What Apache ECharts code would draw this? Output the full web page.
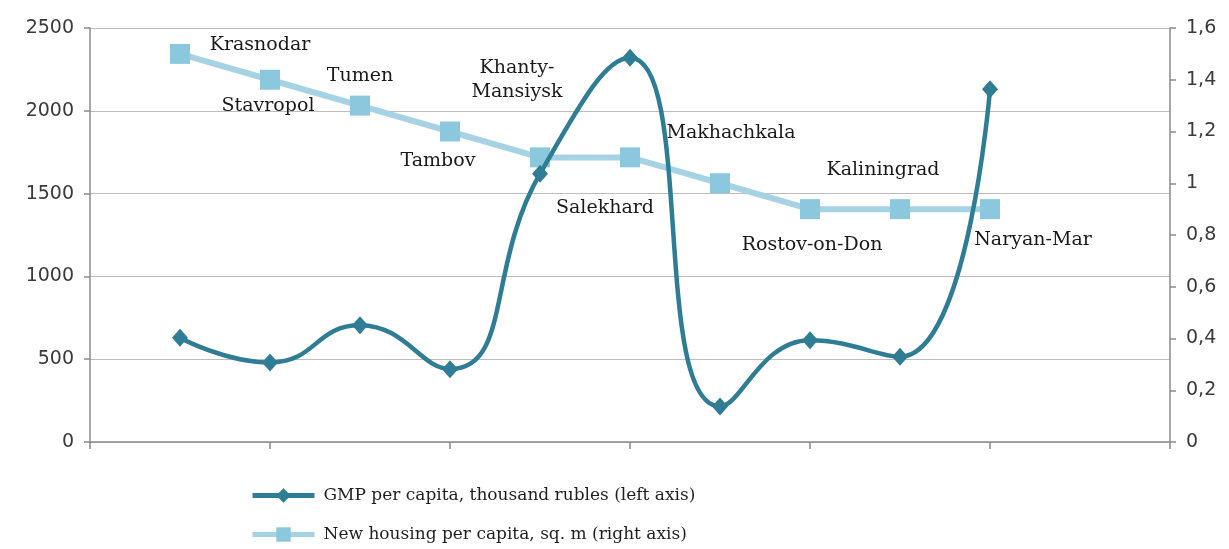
<!DOCTYPE html>
<html>
<head>
<meta charset="utf-8">
<title>GMP and new housing per capita</title>
<script src="https://cdn.jsdelivr.net/npm/echarts@6/dist/echarts.min.js"></script>
<style>
  html, body { margin: 0; padding: 0; background: #ffffff; }
  #chart { width: 1229px; height: 549px; }
</style>
</head>
<body>
<div id="chart"></div>
<script>
// Regional centres, in plotting order
const cities = ['Krasnodar', 'Stavropol', 'Tumen', 'Tambov', 'Khanty-\nMansiysk',
                'Salekhard', 'Makhachkala', 'Rostov-on-Don', 'Kaliningrad', 'Naryan-Mar'];
// GMP per capita, thousand rubles (left axis)
const gmpPerCapita = [630, 480, 705, 440, 1620, 2320, 215, 615, 515, 2130];
// New housing per capita, sq. m (right axis)
const housingPerCapita = [1.5, 1.4, 1.3, 1.2, 1.1, 1.1, 1.0, 0.9, 0.9, 0.9];
// Tick values
const leftTicks = { min: 0, max: 2500, step: 500 };
const rightTicks = { min: 0, max: 1.6, step: 0.2 };

const seriesNames = ['GMP per capita, thousand rubles (left axis)',
                     'New housing per capita, sq. m (right axis)'];

// Where each city name sits relative to its housing marker (centre offset, px)
const cityLabelOffsets = [[80, -9], [-2, 26], [0, -30], [-12, 30], [-23, -77],
                          [-25, 51], [11, -50], [2, 36], [-17, -39], [43, 31]];

const axisGray = '#8a8a8a';
const tickFont = { fontFamily: 'DejaVu Sans', fontSize: 19, color: '#3a3a3a' };
const serifFont = 'DejaVu Serif';

const chart = echarts.init(document.getElementById('chart'), null, { renderer: 'canvas' });

const housingData = housingPerCapita.map((v, i) => ({
  value: [i + 1, v],
  label: { offset: cityLabelOffsets[i] }
}));
const gmpData = gmpPerCapita.map((v, i) => [i + 1, v]);

chart.setOption({
  animation: false,
  backgroundColor: '#ffffff',
  grid: { left: 90, right: 59, top: 28, bottom: 107, containLabel: false },
  legend: {
    orient: 'vertical',
    left: 250,
    top: 487,
    height: 90,
    padding: 0,
    itemWidth: 62,
    itemHeight: 18,
    itemGap: 22,
    data: seriesNames,
    lineStyle: { width: 5 },
    textStyle: { fontFamily: serifFont, fontSize: 17, color: '#1f1f1f', padding: [0, 0, 0, 4] }
  },
  xAxis: {
    type: 'value',
    min: 0,
    max: 12,
    interval: 2,
    axisLine: { show: true, lineStyle: { color: axisGray, width: 1.5 } },
    axisTick: { show: true, length: 7, lineStyle: { color: axisGray, width: 1.5 } },
    axisLabel: { show: false },
    splitLine: { show: false }
  },
  yAxis: [
    {
      type: 'value',
      position: 'left',
      min: leftTicks.min,
      max: leftTicks.max,
      interval: leftTicks.step,
      axisLine: { show: true, lineStyle: { color: axisGray, width: 1.5 } },
      axisTick: { show: true, length: 6, lineStyle: { color: axisGray, width: 1.5 } },
      axisLabel: Object.assign({ margin: 16, formatter: v => String(v) }, tickFont),
      splitLine: { show: true, lineStyle: { color: '#bdbdbd', width: 1.2 } }
    },
    {
      type: 'value',
      position: 'right',
      min: rightTicks.min,
      max: rightTicks.max,
      interval: rightTicks.step,
      axisLine: { show: true, lineStyle: { color: axisGray, width: 1.5 } },
      axisTick: { show: true, length: 6, lineStyle: { color: axisGray, width: 1.5 } },
      axisLabel: Object.assign({
        margin: 16,
        formatter: v => String(Math.round(v * 10) / 10).replace('.', ',')
      }, tickFont),
      splitLine: { show: false }
    }
  ],
  series: [
    {
      name: seriesNames[1],
      type: 'line',
      yAxisIndex: 1,
      data: housingData,
      symbol: 'rect',
      symbolSize: 20,
      itemStyle: { color: '#8cc8dd' },
      lineStyle: { color: '#a6d3e3', width: 6 },
      label: {
        show: true,
        position: 'inside',
        fontFamily: serifFont,
        fontSize: 19,
        lineHeight: 24,
        color: '#1a1a1a',
        formatter: p => cities[p.dataIndex]
      },
      z: 2
    },
    {
      name: seriesNames[0],
      type: 'line',
      yAxisIndex: 0,
      data: gmpData,
      smooth: 0.5,
      symbol: 'diamond',
      symbolSize: [16, 18],
      itemStyle: { color: '#2e7d95' },
      lineStyle: { color: '#2e7d95', width: 4.5 },
      z: 3
    }
  ]
});
</script>
</body>
</html>
